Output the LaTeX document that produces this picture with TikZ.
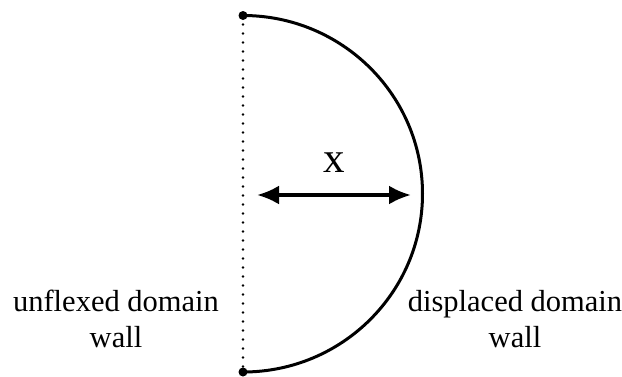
\documentclass[tikz,border=0pt]{standalone}
\usepackage{fontspec}
\setmainfont{Liberation Serif}
\usetikzlibrary{arrows.meta}
\tikzset{
  wall/.style={line width=3pt},
  endpt/.style={circle,fill=black,inner sep=0pt,minimum size=9pt},
  lbl/.style={align=center,font=\fontsize{30.5}{36}\selectfont,inner sep=0pt},
  dim/.style={line width=3.5pt,{Latex[length=22pt,width=19pt]}-{Latex[length=22pt,width=19pt]}}
}
\begin{document}
\begin{tikzpicture}[x=1pt,y=-1pt]
\useasboundingbox (0,0) rectangle (622,376);
\node[endpt] (top) at (243,15.5) {};
\node[endpt] (bot) at (243,372) {};
\draw[line width=2.6pt,dash pattern=on 0pt off 9pt,line cap=round] (top.center) -- (bot.center);
\draw[wall] (top.center) arc[start angle=-90,end angle=90,x radius=179.5,y radius=178.25];
\coordinate (al) at (257,195);
\coordinate (ar) at (411,195);
\draw[dim] (al) -- (ar);
\node[font=\fontsize{43}{45}\selectfont,inner sep=0pt,anchor=base] (xl) at (334,172) {x};
\node[lbl,anchor=base] (ul) at (116,347) {unflexed domain\\wall};
\node[lbl,anchor=base] (dl) at (515,347) {displaced domain\\wall};
\end{tikzpicture}
\end{document}
